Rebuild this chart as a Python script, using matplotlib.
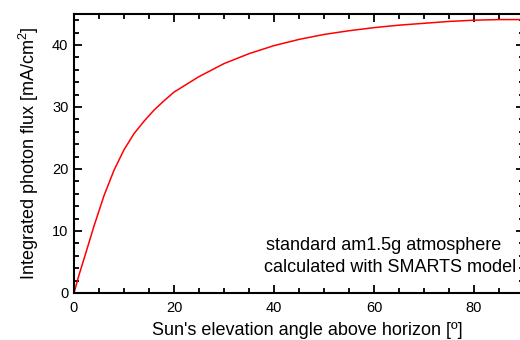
import matplotlib
matplotlib.use("Agg")
import matplotlib.pyplot as plt
from matplotlib.ticker import MultipleLocator

elevation = [0, 1, 2, 4, 6, 8, 10, 12, 14, 16, 18, 20, 25, 30, 35, 40, 45, 50,
             55, 60, 65, 70, 75, 80, 85, 90]
flux = [0, 2.9, 5.5, 10.8, 15.7, 19.8, 23.1, 25.7, 27.7, 29.5, 31.0, 32.4,
        34.9, 37.0, 38.6, 39.9, 40.9, 41.7, 42.3, 42.8, 43.2, 43.5, 43.8,
        44.0, 44.1, 44.1]

xlabel = "Sun's elevation angle above horizon [º]"
ylabel = "Integrated photon flux [mA/cm$^2$]"
note1 = "standard am1.5g atmosphere"
note2 = "calculated with SMARTS model"

plt.rcParams['font.family'] = ['Liberation Sans', 'DejaVu Sans']
plt.rcParams['mathtext.fontset'] = 'custom'
plt.rcParams['mathtext.rm'] = 'Liberation Sans'

fig = plt.figure(figsize=(5.2, 3.4), dpi=100)
ax = fig.add_axes([74/520, 1-293/340, 450/520, (293-14)/340])
ax.plot(elevation, flux, color='red', lw=1.1, clip_on=False)
ax.set_xlim(0, 90)
ax.set_ylim(0, 45)
ax.xaxis.set_major_locator(MultipleLocator(20))
ax.xaxis.set_minor_locator(MultipleLocator(5))
ax.yaxis.set_major_locator(MultipleLocator(10))
ax.yaxis.set_minor_locator(MultipleLocator(2))
ax.tick_params(which='both', direction='in', top=True, right=True, width=1.3,
               labelsize=10.5, colors='black')
ax.tick_params(which='major', length=5.5)
ax.tick_params(axis='x', which='major', pad=6)
ax.tick_params(axis='y', which='major', pad=4)
ax.tick_params(which='minor', length=3.5)
for s in ax.spines.values():
    s.set_linewidth(1.5)
ax.set_xlabel(xlabel, fontsize=13)
ax.set_ylabel(ylabel, fontsize=13)
ax.xaxis.set_label_coords((307-74)/450, -(322-293)/279, transform=ax.transAxes)
ax.xaxis.label.set_va('top')
ax.yaxis.set_label_coords(-(74-41)/450, (293-153)/279, transform=ax.transAxes)
ax.text((266-74)/450, (293-246)/279, note1, transform=ax.transAxes,
        fontsize=13, ha='left', va='center')
ax.text((264-74)/450, (293-267)/279, note2, transform=ax.transAxes,
        fontsize=13, ha='left', va='center')
fig.savefig("out.png", dpi=100)
